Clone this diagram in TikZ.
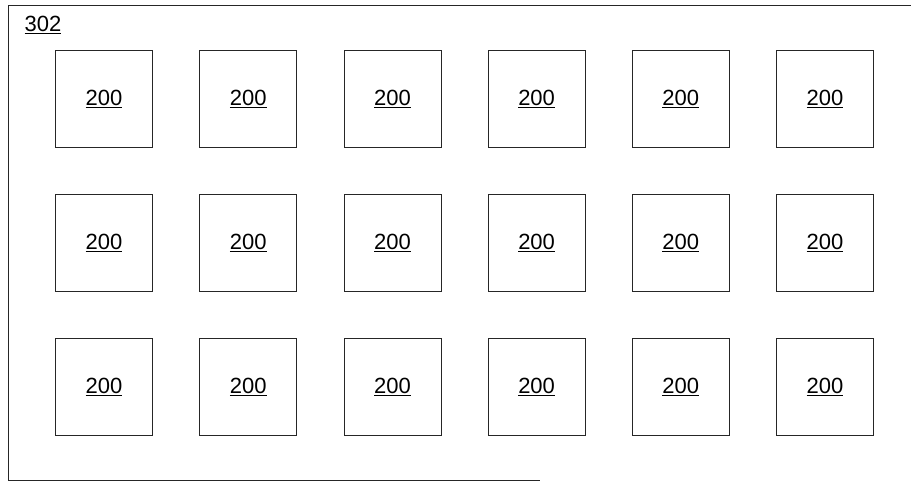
\documentclass[tikz,border=0pt]{standalone}
\usepackage{fontspec}
\setmainfont{Liberation Sans}
\usetikzlibrary{positioning}

\begin{document}
\begin{tikzpicture}[x=1pt, y=-1pt, node distance=46.3pt and 46.5pt,
				cell/.style={draw=black!85, line width=0.7pt, minimum size=97pt, inner sep=0pt, font=\fontsize{22}{26}\selectfont},
				tag/.style={inner sep=0pt, font=\fontsize{22}{26}\selectfont}]
				
				\useasboundingbox (0,0) rectangle (911,482);
				\draw[black!85, line width=0.8pt] (911,5) -- (8,5) -- (8,480) -- (540,480);
				
				\node[tag] (panel) at (43,25) {\underline{302}};
				
				\node[cell] (r1c1) at (104,99) {\underline{200}};
				\node[cell, right=of r1c1] (r1c2) {\underline{200}};
				\node[cell, right=of r1c2] (r1c3) {\underline{200}};
				\node[cell, right=of r1c3] (r1c4) {\underline{200}};
				\node[cell, right=of r1c4] (r1c5) {\underline{200}};
				\node[cell, right=of r1c5] (r1c6) {\underline{200}};
				
				\node[cell, below=of r1c1] (r2c1) {\underline{200}};
				\node[cell, right=of r2c1] (r2c2) {\underline{200}};
				\node[cell, right=of r2c2] (r2c3) {\underline{200}};
				\node[cell, right=of r2c3] (r2c4) {\underline{200}};
				\node[cell, right=of r2c4] (r2c5) {\underline{200}};
				\node[cell, right=of r2c5] (r2c6) {\underline{200}};
				
				\node[cell, below=of r2c1] (r3c1) {\underline{200}};
				\node[cell, right=of r3c1] (r3c2) {\underline{200}};
				\node[cell, right=of r3c2] (r3c3) {\underline{200}};
				\node[cell, right=of r3c3] (r3c4) {\underline{200}};
				\node[cell, right=of r3c4] (r3c5) {\underline{200}};
				\node[cell, right=of r3c5] (r3c6) {\underline{200}};
			\end{tikzpicture}
\end{document}
